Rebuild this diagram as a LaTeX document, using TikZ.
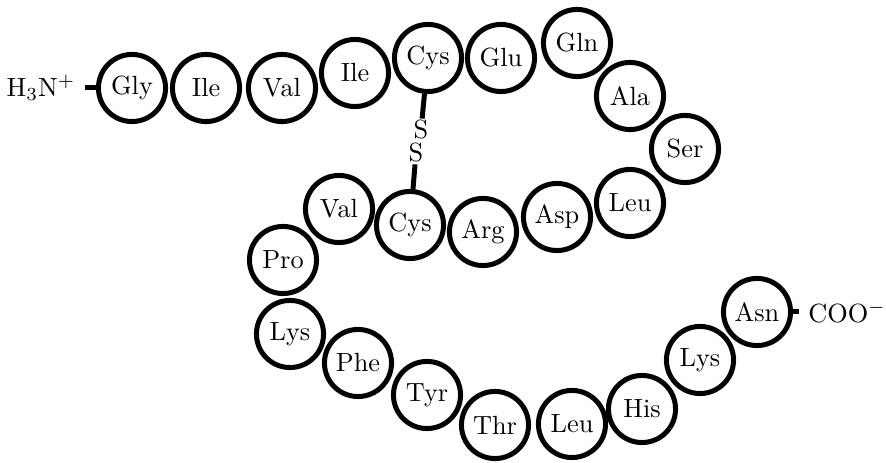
\documentclass[tikz,border=0pt]{standalone}
\usetikzlibrary{calc}
\tikzset{
  aa/.style={circle, draw, line width=1.9pt, minimum size=25.5pt, inner sep=0pt},
  bond/.style={line width=1.9pt},
  sulf/.style={inner sep=0.5pt},
}
\begin{document}
\begin{tikzpicture}[x=0.38pt,y=-0.38pt]
\useasboundingbox (0,0) rectangle (886,463);
\node[aa] (gly) at (132,88) {Gly};
\node[aa] (ile1) at (206,88) {Ile};
\node[aa] (val1) at (282,88) {Val};
\node[aa] (ile2) at (355,73) {Ile};
\node[aa] (cys1) at (428,58) {Cys};
\node[aa] (glu) at (501,58) {Glu};
\node[aa] (gln) at (577,43) {Gln};
\node[aa] (ala) at (630,96) {Ala};
\node[aa] (ser) at (685,149) {Ser};
\node[aa] (leu1) at (630,203) {Leu};
\node[aa] (asp) at (557,217) {Asp};
\node[aa] (arg) at (483,232) {Arg};
\node[aa] (cys2) at (410,225) {Cys};
\node[aa] (val2) at (339,209) {Val};
\node[aa] (pro) at (283,260) {Pro};
\node[aa] (lys1) at (290,334) {Lys};
\node[aa] (phe) at (358,363) {Phe};
\node[aa] (tyr) at (427,395) {Tyr};
\node[aa] (thr) at (495,425) {Thr};
\node[aa] (leu2) at (572,424) {Leu};
\node[aa] (his) at (642,409) {His};
\node[aa] (lys2) at (700,360) {Lys};
\node[aa] (asn) at (757,312) {Asn};
\node (h3n) at (41,88) {$\mathrm{H_3N^+}$};
\node[anchor=west] (coo) at (799,312) {COO$^-$};
\node[sulf] (s1) at (421,130) {S};
\node[sulf] (s2) at (416,153) {S};
\draw[bond] (h3n.east) -- (gly.west);
\draw[bond] (asn.east) -- (coo.west);
\draw[bond] (cys1) -- (s1);
\draw[bond] (s2) -- (cys2);
\end{tikzpicture}
\end{document}
